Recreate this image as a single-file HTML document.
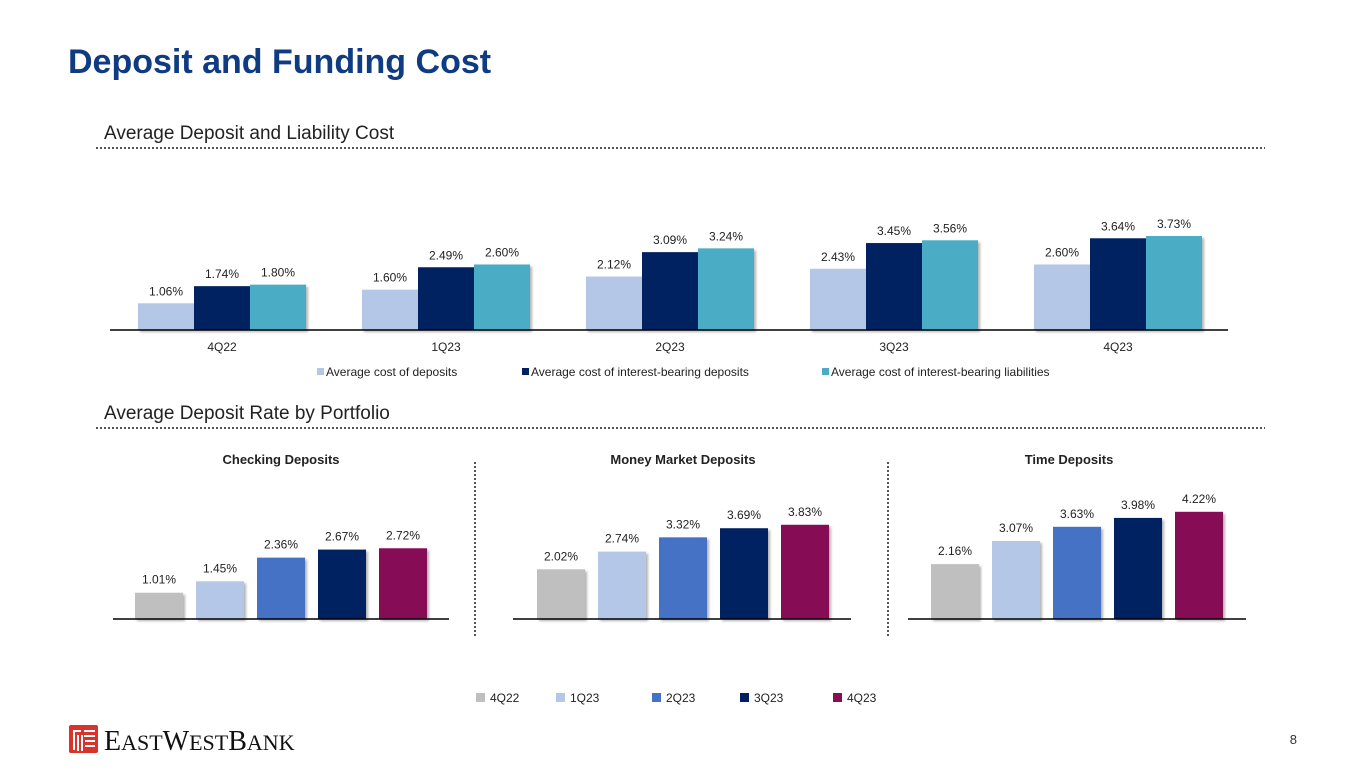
<!DOCTYPE html>
<html><head><meta charset="utf-8"><style>
html,body{margin:0;padding:0;background:#fff;}
body{width:1365px;height:768px;overflow:hidden;font-family:"Liberation Sans",sans-serif;}
svg text{font-family:"Liberation Sans",sans-serif;}
</style></head><body>
<svg id="s" width="1365" height="768" xmlns="http://www.w3.org/2000/svg">
<defs><filter id="sh" x="-10%" y="-10%" width="130%" height="130%"><feDropShadow dx="2" dy="2" stdDeviation="1.2" flood-color="#000" flood-opacity="0.3"/></filter></defs>
<text x="68" y="73" font-size="34" font-weight="bold" fill="#0e3b82">Deposit and Funding Cost</text>
<text x="104" y="139" font-size="19" fill="#222">Average Deposit and Liability Cost</text>
<line x1="96" y1="148" x2="1265" y2="148" stroke="#555" stroke-width="2" stroke-dasharray="2,2"/>
<text x="104" y="419" font-size="19" fill="#222">Average Deposit Rate by Portfolio</text>
<line x1="96" y1="428" x2="1265" y2="428" stroke="#555" stroke-width="2" stroke-dasharray="2,2"/>
<line x1="475" y1="462" x2="475" y2="636" stroke="#555" stroke-width="2" stroke-dasharray="2,2"/>
<line x1="888" y1="462" x2="888" y2="636" stroke="#555" stroke-width="2" stroke-dasharray="2,2"/>
<g id="topchart"></g>
<g id="botchart"></g>
<g>
<rect x="69" y="725" width="29" height="28" fill="#d9342b" rx="2"/>
<path d="M73 730h8v2h-6v18h-2zM84 730h11v2h-11zM84 735h11v2h-11zM77 735h2v16h-2zM81 735h2v16h-2zM85 740h10v2h-10zM85 745h10v2h-10z" fill="#fff"/>
<text x="104" y="750" font-size="28" fill="#111" style="font-family:'Liberation Serif',serif">E<tspan font-size="22">AST</tspan>W<tspan font-size="22">EST</tspan>B<tspan font-size="22">ANK</tspan></text>
</g>
<text x="1297" y="744" font-size="13" fill="#333" text-anchor="end">8</text>
</svg>
<script>
const NS="http://www.w3.org/2000/svg";
const topCats=["4Q22","1Q23","2Q23","3Q23","4Q23"];
const seriesNames=["Average cost of deposits","Average cost of interest-bearing deposits","Average cost of interest-bearing liabilities"];
const costDeposits=[1.06,1.60,2.12,2.43,2.60];
const costIBDeposits=[1.74,2.49,3.09,3.45,3.64];
const costIBLiabilities=[1.80,2.60,3.24,3.56,3.73];
const portfolioNames=["Checking Deposits","Money Market Deposits","Time Deposits"];
const quarters=["4Q22","1Q23","2Q23","3Q23","4Q23"];
const checking=[1.01,1.45,2.36,2.67,2.72];
const moneyMarket=[2.02,2.74,3.32,3.69,3.83];
const timeDep=[2.16,3.07,3.63,3.98,4.22];

function el(t,a,p){const e=document.createElementNS(NS,t);for(const k in a)e.setAttribute(k,a[k]);p.appendChild(e);return e;}
function txt(p,x,y,s,size,anchor,extra){const t=el("text",Object.assign({x:x,y:y,"font-size":size,fill:"#222","text-anchor":anchor||"middle"},extra||{}),p);t.textContent=s;return t;}

const topG=document.getElementById("topchart");
const topColors=["#b4c7e7","#002060","#4bacc6"];
const topSeries=[costDeposits,costIBDeposits,costIBLiabilities];
const baseY=330, scaleTop=25.2;
const xTop=i=>222+i*224;
const yTop=v=>baseY-v*scaleTop;
topSeries.forEach((s,si)=>{
 s.forEach((v,i)=>{
  const x=xTop(i)-84+si*56;
  const r=el("rect",{x:x,y:yTop(v),width:56,height:baseY-yTop(v),fill:topColors[si],filter:"url(#sh)"},topG);
  
  
  const l=txt(topG,x+28,yTop(v)-8,v.toFixed(2)+"%",12);
  
  
 });
});
const ax=el("line",{x1:110,y1:baseY,x2:1228,y2:baseY,stroke:"#000","stroke-width":1.5},topG);


topCats.forEach((c,i)=>{const t=txt(topG,xTop(i),351,c,12);
 
 });
const legX=[317,522,822];
seriesNames.forEach((n,i)=>{
 const g=el("g",{},topG);
 
 
 el("rect",{x:legX[i],y:368,width:7,height:7,fill:topColors[i]},g);
 txt(g,legX[i]+9,376,n,12,"start");
});

const botG=document.getElementById("botchart");
const qColors=["#bfbfbf","#b4c7e7","#4472c4","#002060","#860f54"];
const pData=[checking,moneyMarket,timeDep];
const pAxis=[[113,449],[513,851],[908,1246]];
const pFirst=[159,561,955];
const pScale=[26,24.6,25.4];
const pTitleX=[281,683,1069];
const bBase=619;
pData.forEach((d,ci)=>{
 const g=el("g",{},botG);
 
 
 const tt=txt(g,pTitleX[ci],464,portfolioNames[ci],13,"middle",{"font-weight":"bold"});
 
 
 d.forEach((v,i)=>{
  const cx=pFirst[ci]+i*61, h=v*pScale[ci];
  const r=el("rect",{x:cx-24,y:bBase-h,width:48,height:h,fill:qColors[i],filter:"url(#sh)"},g);
  
  
  const l=txt(g,cx,bBase-h-9,v.toFixed(2)+"%",12);
  
  
 });
 const a=el("line",{x1:pAxis[ci][0],y1:bBase,x2:pAxis[ci][1],y2:bBase,stroke:"#000","stroke-width":1.5},g);
 
 
});
const qLegX=[476,556,652,740,833];
quarters.forEach((q,i)=>{
 const g=el("g",{},botG);
 
 
 el("rect",{x:qLegX[i],y:693,width:9,height:9,fill:qColors[i]},g);
 txt(g,qLegX[i]+14,702,q,12,"start");
});
</script>
</body></html>
